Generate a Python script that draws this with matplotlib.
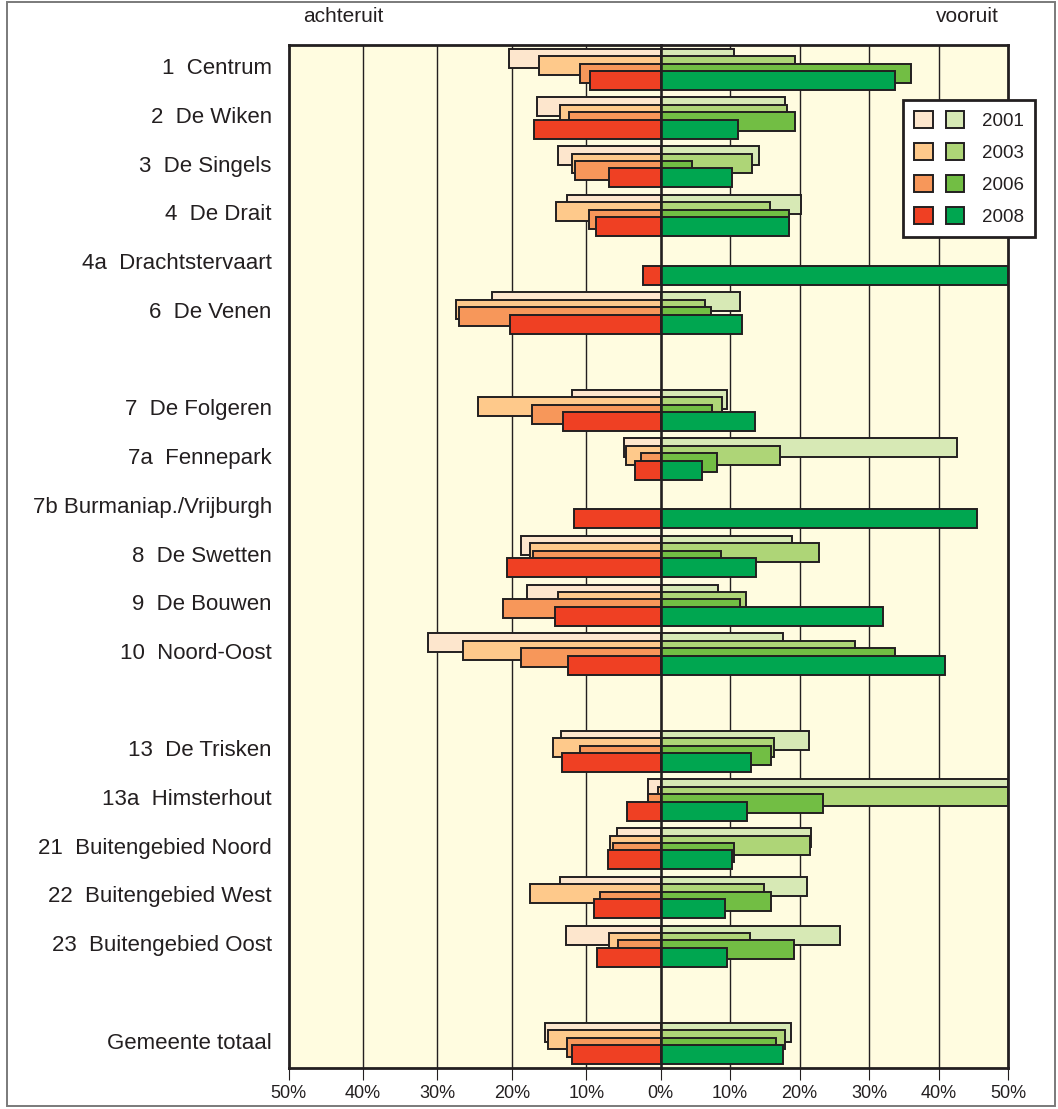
import numpy as np
import matplotlib
matplotlib.use("Agg")
import matplotlib.pyplot as plt
from matplotlib.patches import Rectangle, Patch
from matplotlib.legend_handler import HandlerTuple
import matplotlib.transforms as mtransforms

plt.rcParams['font.family'] = ['Liberation Sans', 'DejaVu Sans']
INK = '#231F20'
plt.rcParams['text.color'] = INK
plt.rcParams['xtick.color'] = INK
plt.rcParams['ytick.color'] = INK
plt.rcParams['xtick.labelcolor'] = INK
plt.rcParams['ytick.labelcolor'] = INK

# ---------------- data ----------------
categories = ["1  Centrum", "2  De Wiken", "3  De Singels", "4  De Drait",
              "4a  Drachtstervaart", "6  De Venen",
              "7  De Folgeren", "7a  Fennepark", "7b Burmaniap./Vrijburgh",
              "8  De Swetten", "9  De Bouwen", "10  Noord-Oost",
              "13  De Trisken", "13a  Himsterhout", "21  Buitengebied Noord",
              "22  Buitengebied West", "23  Buitengebied Oost",
              "Gemeente totaal"]
group = [0, 0, 0, 0, 0, 0, 1, 1, 1, 1, 1, 1, 2, 2, 2, 2, 2, 3]
years = ["2001", "2003", "2006", "2008"]
nan = np.nan
achteruit_2001 = [20.4, 16.6, 13.8, 12.6, nan, 22.6, 11.9, 4.9, nan, 18.7, 18.0, 31.2, 13.4, 1.7, 5.9, 13.5, 12.7, 15.5]
achteruit_2003 = [16.4, 13.5, 11.9, 14.1, nan, 27.5, 24.5, 4.7, nan, 17.5, 13.8, 26.5, 14.5, 0.4, 6.8, 17.5, 6.9, 15.1]
achteruit_2006 = [10.9, 12.3, 11.5, 9.6, nan, 27.1, 17.3, 2.7, nan, 17.2, 21.2, 18.7, 10.9, 1.7, 6.4, 8.2, 5.7, 12.6]
achteruit_2008 = [9.5, 17.0, 6.9, 8.7, 2.4, 20.3, 13.1, 3.5, 11.7, 20.7, 14.2, 12.5, 13.3, 4.5, 7.1, 9.0, 8.6, 11.9]
vooruit_2001 = [10.6, 17.9, 14.2, 20.2, nan, 11.4, 9.5, 42.6, nan, 18.9, 8.2, 17.6, 21.3, 50.0, 21.6, 21.1, 25.8, 18.7]
vooruit_2003 = [19.3, 18.2, 13.1, 15.7, nan, 6.4, 8.8, 17.2, nan, 22.8, 12.3, 28.0, 16.3, 50.0, 21.5, 14.9, 12.8, 17.9]
vooruit_2006 = [36.0, 19.3, 4.5, 18.5, nan, 7.2, 7.4, 8.1, nan, 8.7, 11.4, 33.7, 15.9, 23.4, 10.5, 15.9, 19.2, 16.6]
vooruit_2008 = [33.7, 11.1, 10.3, 18.5, 50.0, 11.7, 13.6, 5.9, 45.5, 13.7, 32.0, 40.9, 13.0, 12.4, 10.3, 9.2, 9.5, 17.6]
left_ticks = [-50, -40, -30, -20, -10, 0]
left_ticklabels = ["50%", "40%", "30%", "20%", "10%", "0%"]
right_ticks = [10, 20, 30, 40, 50]
right_ticklabels = ["10%", "20%", "30%", "40%", "50%"]

achteruit = [achteruit_2001, achteruit_2003, achteruit_2006, achteruit_2008]
vooruit = [vooruit_2001, vooruit_2003, vooruit_2006, vooruit_2008]

# ---------------- style ----------------
neg_colors = ['#FDE6CD', '#FEC98B', '#F7975A', '#EF4023']
pos_colors = ['#D7E9B5', '#AED577', '#72BE44', '#00A650']
BG = '#FFFCE0'
offsets = [-0.23, -0.077, 0.077, 0.23]
bar_h = 0.39
EDGE_LW = 1.4

W, H = 1058, 1109
fig = plt.figure(figsize=(W / 100, H / 100), dpi=100)
x0, xz, x1 = 288.5, 660.7, 1008.0
ytop, ybot = 45.0, 1068.0
axL = fig.add_axes([x0 / W, 1 - ybot / H, (xz - x0) / W, (ybot - ytop) / H])
axR = fig.add_axes([xz / W, 1 - ybot / H, (x1 - xz) / W, (ybot - ytop) / H])

pos = np.arange(len(categories)) + np.array(group)

for ax in (axL, axR):
    ax.set_facecolor(BG)
    ax.set_ylim(pos.max() + 0.5, -0.5)
    for s in ax.spines.values():
        s.set_linewidth(2.0)
        s.set_color(INK)

axL.set_xlim(-50, 0)
axR.set_xlim(0, 50)
axL.spines['right'].set_visible(False)
axR.spines['left'].set_visible(False)

for g in left_ticks[1:-1]:
    axL.axvline(g, color=INK, lw=1.0, zorder=1)
for g in right_ticks[:-1]:
    axR.axvline(g, color=INK, lw=1.0, zorder=1)

for k in range(4):
    axL.barh(pos + offsets[k], -np.array(achteruit[k]), height=bar_h,
             color=neg_colors[k], edgecolor=INK, linewidth=EDGE_LW, zorder=2 + k)
    axR.barh(pos + offsets[k], np.array(vooruit[k]), height=bar_h,
             color=pos_colors[k], edgecolor=INK, linewidth=EDGE_LW, zorder=2 + k)

axR.axvline(0, color=INK, lw=1.9, zorder=10, clip_on=False)

axL.set_xticks(left_ticks, left_ticklabels)
axR.set_xticks(right_ticks, right_ticklabels)
for ax in (axL, axR):
    ax.tick_params(axis='x', direction='out', length=8.6, width=0.8,
                   pad=4, labelsize=13)
axL.set_yticks(pos, categories)
axL.tick_params(axis='y', length=0, pad=12, labelsize=16)
axR.set_yticks([])
shift = mtransforms.ScaledTranslation(0, 3 / 100, fig.dpi_scale_trans)
for lab in axL.get_yticklabels():
    lab.set_transform(lab.get_transform() + shift)

fig.text(343 / W, 1 - 17 / H, "achteruit", ha='center', va='center', fontsize=15)
fig.text(967 / W, 1 - 17 / H, "vooruit", ha='center', va='center', fontsize=15)

handles = [(Patch(facecolor=neg_colors[k], edgecolor=INK, linewidth=EDGE_LW),
            Patch(facecolor=pos_colors[k], edgecolor=INK, linewidth=EDGE_LW))
           for k in range(4)]
leg = fig.legend(handles, years,
                 handler_map={tuple: HandlerTuple(ndivide=None, pad=0.7)},
                 loc='upper right', bbox_to_anchor=(1035 / W, 1 - 100 / H),
                 fontsize=13.5, frameon=True, fancybox=False, edgecolor=INK,
                 framealpha=1, facecolor='white', handlelength=2.65,
                 handleheight=1.0, handletextpad=0.95, borderpad=0.6,
                 labelspacing=0.7, borderaxespad=0)
leg.get_frame().set_linewidth(2.0)
leg.set_zorder(20)

fig.add_artist(Rectangle((7 / W, 1 - 1106 / H), (1055 - 7) / W, (1106 - 2) / H,
                         transform=fig.transFigure, fill=False,
                         edgecolor='#7a7a7a', linewidth=1.4))

fig.savefig("out.png", dpi=100, facecolor='white')
